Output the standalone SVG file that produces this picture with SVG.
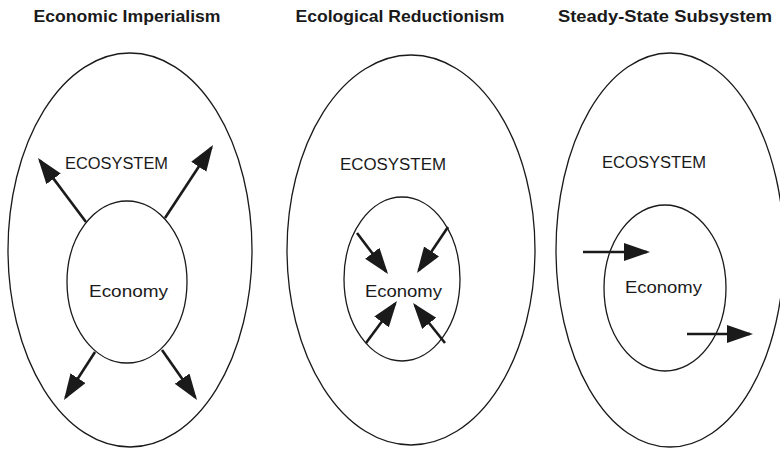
<svg xmlns="http://www.w3.org/2000/svg" width="780" height="449" viewBox="0 0 780 449">
<style>
.title{font-family:"Liberation Sans",Arial,sans-serif;font-weight:bold;font-size:16.5px;fill:#1a1a1a;text-anchor:middle}
.lbl{font-family:"Liberation Sans",Arial,sans-serif;font-size:16px;fill:#1a1a1a;text-anchor:middle}
.ell{fill:none;stroke:#1a1a1a;stroke-width:1.3}
.arr{stroke:#1a1a1a;stroke-width:2.6;fill:none;marker-end:url(#ah)}
</style>
<defs>
<marker id="ah" markerUnits="userSpaceOnUse" markerWidth="28" markerHeight="20" viewBox="0 0 28 20" refX="23" refY="9" orient="auto">
<path d="M0,0 L26,9 L0,18 z" fill="#1a1a1a"/>
</marker>
</defs>
<rect width="780" height="449" fill="#fff"/>
<text class="title" x="127" y="22" textLength="187" lengthAdjust="spacingAndGlyphs">Economic Imperialism</text>
<text class="title" x="400" y="22" textLength="209" lengthAdjust="spacingAndGlyphs">Ecological Reductionism</text>
<text class="title" x="665" y="22" textLength="214" lengthAdjust="spacingAndGlyphs">Steady-State Subsystem</text>
<g id="eco1">
<ellipse class="ell" cx="130" cy="250" rx="122" ry="197"/>
<text class="lbl" x="116.5" y="169" textLength="103" lengthAdjust="spacingAndGlyphs">ECOSYSTEM</text>
</g>
<g id="econ1">
<ellipse class="ell" cx="127" cy="282" rx="60" ry="81"/>
<text class="lbl" x="128.5" y="297" textLength="79" lengthAdjust="spacingAndGlyphs">Economy</text>
</g>
<g id="eco2">
<ellipse class="ell" cx="411" cy="250" rx="124" ry="195"/>
<text class="lbl" x="393" y="170" textLength="106" lengthAdjust="spacingAndGlyphs">ECOSYSTEM</text>
</g>
<g id="econ2">
<ellipse class="ell" cx="402" cy="279" rx="58" ry="82"/>
<text class="lbl" x="403.5" y="297" textLength="77" lengthAdjust="spacingAndGlyphs">Economy</text>
</g>
<g id="eco3">
<ellipse class="ell" cx="670" cy="250" rx="114" ry="197"/>
<text class="lbl" x="654" y="168" textLength="104" lengthAdjust="spacingAndGlyphs">ECOSYSTEM</text>
</g>
<g id="econ3">
<ellipse class="ell" cx="665" cy="288" rx="61" ry="83"/>
<text class="lbl" x="663.5" y="293" textLength="77" lengthAdjust="spacingAndGlyphs">Economy</text>
</g>
<g id="connectors">
<line class="arr" x1="86" y1="222" x2="39.8" y2="160.4"/>
<line class="arr" x1="165" y1="218" x2="211.4" y2="147.5"/>
<line class="arr" x1="95" y1="352" x2="65.6" y2="397.5"/>
<line class="arr" x1="162" y1="350" x2="195.3" y2="397.5"/>
<line class="arr" x1="357" y1="233" x2="386.2" y2="271.6"/>
<line class="arr" x1="448" y1="227" x2="418.7" y2="270.5"/>
<line class="arr" x1="366" y1="343" x2="395.2" y2="303.4"/>
<line class="arr" x1="445" y1="343" x2="414.9" y2="305.3"/>
<line class="arr" x1="583" y1="252" x2="647" y2="252"/>
<line class="arr" x1="687" y1="334" x2="750" y2="334"/>
</g>
</svg>
